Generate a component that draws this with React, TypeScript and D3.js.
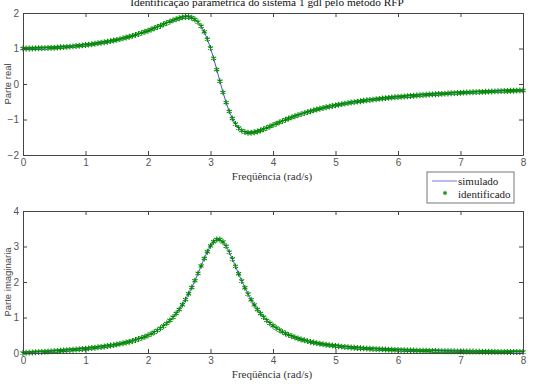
import React, { useRef, useEffect } from "react";
import * as d3 from "d3";

// frequency (rad/s) of each sample
const freq = [
  0, 0.05, 0.1, 0.15, 0.2, 0.25, 0.3, 0.35, 0.4, 0.45, 0.5, 0.55, 0.6, 0.65, 0.7, 0.75, 0.8, 0.85, 0.9, 0.95,
  1, 1.05, 1.1, 1.15, 1.2, 1.25, 1.3, 1.35, 1.4, 1.45, 1.5, 1.55, 1.6, 1.65, 1.7, 1.75, 1.8, 1.85, 1.9, 1.95,
  2, 2.05, 2.1, 2.15, 2.2, 2.25, 2.3, 2.35, 2.4, 2.45, 2.5, 2.55, 2.6, 2.65, 2.7, 2.75, 2.8, 2.85, 2.9, 2.95,
  3, 3.05, 3.1, 3.15, 3.2, 3.25, 3.3, 3.35, 3.4, 3.45, 3.5, 3.55, 3.6, 3.65, 3.7, 3.75, 3.8, 3.85, 3.9, 3.95,
  4, 4.05, 4.1, 4.15, 4.2, 4.25, 4.3, 4.35, 4.4, 4.45, 4.5, 4.55, 4.6, 4.65, 4.7, 4.75, 4.8, 4.85, 4.9, 4.95,
  5, 5.05, 5.1, 5.15, 5.2, 5.25, 5.3, 5.35, 5.4, 5.45, 5.5, 5.55, 5.6, 5.65, 5.7, 5.75, 5.8, 5.85, 5.9, 5.95,
  6, 6.05, 6.1, 6.15, 6.2, 6.25, 6.3, 6.35, 6.4, 6.45, 6.5, 6.55, 6.6, 6.65, 6.7, 6.75, 6.8, 6.85, 6.9, 6.95,
  7, 7.05, 7.1, 7.15, 7.2, 7.25, 7.3, 7.35, 7.4, 7.45, 7.5, 7.55, 7.6, 7.65, 7.7, 7.75, 7.8, 7.85, 7.9, 7.95,
  8,
];

// real part
const parteReal = [
  1.0, 1.0, 1.001, 1.002, 1.004, 1.006, 1.008, 1.011, 1.015, 1.019, 1.023, 1.028, 1.033, 1.039, 1.046, 1.053, 1.061, 1.069, 1.078, 1.088,
  1.098, 1.109, 1.12, 1.133, 1.146, 1.16, 1.175, 1.191, 1.208, 1.226, 1.244, 1.264, 1.286, 1.308, 1.331, 1.356, 1.383, 1.41, 1.44, 1.47,
  1.502, 1.536, 1.57, 1.606, 1.643, 1.681, 1.719, 1.756, 1.792, 1.825, 1.854, 1.876, 1.888, 1.886, 1.865, 1.819, 1.743, 1.628, 1.469, 1.264,
  1.013, 0.722, 0.405, 0.079, -0.236, -0.524, -0.772, -0.973, -1.128, -1.239, -1.313, -1.356, -1.374, -1.374, -1.361, -1.338, -1.308, -1.273, -1.236, -1.198,
  -1.159, -1.12, -1.082, -1.045, -1.008, -0.974, -0.94, -0.908, -0.877, -0.848, -0.82, -0.793, -0.768, -0.743, -0.72, -0.698, -0.677, -0.656, -0.637, -0.619,
  -0.601, -0.584, -0.568, -0.552, -0.538, -0.523, -0.51, -0.497, -0.484, -0.472, -0.46, -0.449, -0.439, -0.428, -0.418, -0.409, -0.399, -0.39, -0.382, -0.374,
  -0.365, -0.358, -0.35, -0.343, -0.336, -0.329, -0.323, -0.316, -0.31, -0.304, -0.298, -0.293, -0.287, -0.282, -0.277, -0.272, -0.267, -0.262, -0.257, -0.253,
  -0.249, -0.244, -0.24, -0.236, -0.232, -0.228, -0.225, -0.221, -0.218, -0.214, -0.211, -0.208, -0.204, -0.201, -0.198, -0.195, -0.192, -0.189, -0.187, -0.184,
  -0.181,
];

// imaginary part
const parteImag = [
  0.0, 0.005, 0.01, 0.015, 0.02, 0.025, 0.03, 0.036, 0.041, 0.046, 0.052, 0.058, 0.064, 0.07, 0.076, 0.083, 0.09, 0.097, 0.105, 0.113,
  0.121, 0.13, 0.139, 0.149, 0.16, 0.171, 0.183, 0.195, 0.209, 0.223, 0.239, 0.256, 0.275, 0.294, 0.316, 0.34, 0.366, 0.394, 0.425, 0.459,
  0.497, 0.539, 0.586, 0.638, 0.696, 0.761, 0.834, 0.915, 1.007, 1.111, 1.227, 1.358, 1.504, 1.667, 1.845, 2.038, 2.243, 2.454, 2.661, 2.854,
  3.017, 3.136, 3.197, 3.195, 3.129, 3.007, 2.842, 2.648, 2.441, 2.231, 2.028, 1.836, 1.66, 1.499, 1.355, 1.226, 1.111, 1.01, 0.919, 0.839,
  0.767, 0.704, 0.647, 0.596, 0.551, 0.51, 0.473, 0.44, 0.41, 0.382, 0.357, 0.335, 0.314, 0.295, 0.278, 0.262, 0.247, 0.234, 0.221, 0.21,
  0.199, 0.189, 0.18, 0.171, 0.163, 0.155, 0.148, 0.142, 0.136, 0.13, 0.124, 0.119, 0.114, 0.11, 0.105, 0.101, 0.097, 0.094, 0.09, 0.087,
  0.084, 0.081, 0.078, 0.075, 0.073, 0.07, 0.068, 0.066, 0.064, 0.062, 0.06, 0.058, 0.056, 0.054, 0.053, 0.051, 0.05, 0.048, 0.047, 0.046,
  0.044, 0.043, 0.042, 0.041, 0.04, 0.039, 0.038, 0.037, 0.036, 0.035, 0.034, 0.033, 0.032, 0.032, 0.031, 0.03, 0.029, 0.029, 0.028, 0.027,
  0.027,
];

const xTicks = [0, 1, 2, 3, 4, 5, 6, 7, 8];
const realTicks = [-2, -1, 0, 1, 2];
const imagTicks = [0, 1, 2, 3, 4];
const legendLabels = ["simulado", "identificado"];

const App = () => {
  const ref = useRef<SVGSVGElement>(null);

  useEffect(() => {
    const width = 533;
    const height = 384;
    const lineColor = "#4f4fe0";
    const starColor = "#008a00";
    const axisColor = "#444";
    const tickText = "#555";
    const serif = "Liberation Serif, Times New Roman, serif";
    const sans = "Liberation Sans, Arial, sans-serif";

    const svg = d3.select(ref.current);
    svg.selectAll("*").remove();
    svg.attr("width", width).attr("height", height);

    const x = d3.scaleLinear().domain([0, 8]).range([23, 523]);

    const panels = [
      { values: parteReal, domain: [-2, 2], range: [155, 13], ticks: realTicks, label: "Parte real" },
      { values: parteImag, domain: [0, 4], range: [353, 211], ticks: imagTicks, label: "Parte imaginaria" },
    ];

    const star = d3.symbol(d3.symbolAsterisk, 24);
    const smallStar = d3.symbol(d3.symbolAsterisk, 14);

    panels.forEach((p) => {
      const y = d3.scaleLinear().domain(p.domain).range(p.range);
      const g = svg.append("g");
      const [yb, yt] = p.range;

      // simulated curve
      const line = d3.line<number>()
        .x((_, i) => x(freq[i]))
        .y((d) => y(d));
      g.append("path")
        .attr("fill", "none")
        .attr("stroke", lineColor)
        .attr("stroke-width", 1)
        .attr("d", line(p.values));

      // identified points
      g.selectAll(".star")
        .data(p.values)
        .enter()
        .append("path")
        .attr("d", star)
        .attr("transform", (d, i) => `translate(${x(freq[i])},${y(d)})`)
        .attr("fill", "none")
        .attr("stroke", starColor)
        .attr("stroke-width", 1.1);

      // axes, box style with inward ticks
      const styleAxis = (a) => {
        a.select(".domain").attr("stroke", axisColor);
        a.selectAll(".tick line").attr("stroke", axisColor);
        a.selectAll(".tick text")
          .attr("fill", tickText)
          .attr("font-family", sans)
          .attr("font-size", 10);
      };

      g.append("g")
        .attr("transform", `translate(0,${yb})`)
        .call(d3.axisBottom(x).tickValues(xTicks).tickSizeInner(-4).tickSizeOuter(0).tickPadding(4).tickFormat(d3.format("d")))
        .call(styleAxis);
      g.append("g")
        .attr("transform", `translate(0,${yt})`)
        .call(d3.axisTop(x).tickValues(xTicks).tickSizeInner(-4).tickSizeOuter(0).tickFormat(() => ""))
        .call(styleAxis);
      g.append("g")
        .attr("transform", `translate(23,0)`)
        .call(d3.axisLeft(y).tickValues(p.ticks).tickSizeInner(-4).tickSizeOuter(0).tickPadding(4).tickFormat(d3.format("d")))
        .call(styleAxis);
      g.append("g")
        .attr("transform", `translate(523,0)`)
        .call(d3.axisRight(y).tickValues(p.ticks).tickSizeInner(-4).tickSizeOuter(0).tickFormat(() => ""))
        .call(styleAxis);

      // x label
      g.append("text")
        .attr("x", 272)
        .attr("y", yb + 25)
        .attr("text-anchor", "middle")
        .attr("font-family", serif)
        .attr("font-size", 11)
        .attr("fill", "#333")
        .text("Freqüência (rad/s)");

      // y label
      g.append("text")
        .attr("transform", `translate(11,${(yb + yt) / 2}) rotate(-90)`)
        .attr("text-anchor", "middle")
        .attr("font-family", sans)
        .attr("font-size", 9.5)
        .attr("fill", "#444")
        .text(p.label);
    });

    // title (clipped by the top edge as in the picture)
    svg.append("text")
      .attr("x", 267)
      .attr("y", 6)
      .attr("text-anchor", "middle")
      .attr("font-family", serif)
      .attr("font-size", 11.3)
      .attr("fill", "#111")
      .text("Identificação paramétrica do sistema 1 gdl pelo método RFP");

    // legend
    const lg = svg.append("g").attr("transform", "translate(427,172)");
    lg.append("rect")
      .attr("width", 87)
      .attr("height", 31)
      .attr("fill", "#fff")
      .attr("stroke", "#777");
    lg.append("line")
      .attr("x1", 5).attr("x2", 30)
      .attr("y1", 9).attr("y2", 9)
      .attr("stroke", "#8a8ae6")
      .attr("stroke-width", 1.2);
    lg.append("path")
      .attr("d", smallStar)
      .attr("transform", "translate(18,21)")
      .attr("fill", "none")
      .attr("stroke", starColor);
    lg.selectAll(".lt")
      .data(legendLabels)
      .enter()
      .append("text")
      .attr("x", 31)
      .attr("y", (d, i) => 13 + i * 12.5)
      .attr("font-family", serif)
      .attr("font-size", 11)
      .attr("fill", "#222")
      .text((d) => d);
  }, []);

  return (
    <svg ref={ref} width={533} height={384} style={{ position: "absolute", left: 0, top: 0, background: "#fff" }} />
  );
};

export default App;
